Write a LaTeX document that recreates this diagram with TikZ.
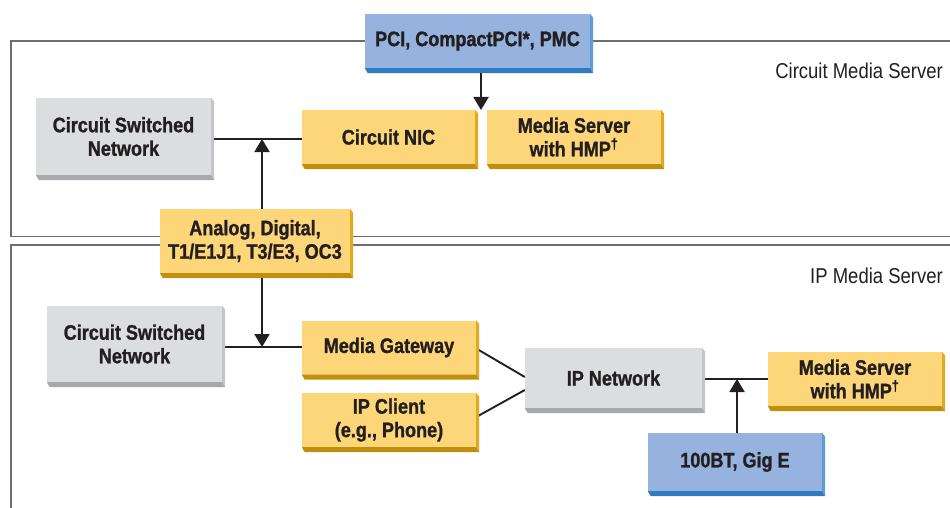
\documentclass[tikz,border=0pt]{standalone}
\usepackage{fontspec}
\setmainfont{Liberation Sans}[FakeStretch=0.86, BoldFeatures={FakeBold=1.2}]
\usetikzlibrary{arrows.meta,calc}
\definecolor{ink}{HTML}{231F20}
\definecolor{frm}{HTML}{6D6E71}
\definecolor{yelF}{HTML}{FED67A}
\definecolor{yelB}{HTML}{C0900C}
\definecolor{yelR}{HTML}{E3A91E}
\definecolor{gryF}{HTML}{DCDDDF}
\definecolor{gryB}{HTML}{A7A9AC}
\definecolor{gryR}{HTML}{C4C5C8}
\definecolor{bluF}{HTML}{95B3DE}
\definecolor{bluB}{HTML}{2E7BC4}
\definecolor{bluR}{HTML}{5F9BD9}
\pgfdeclarelayer{bg}
\pgfsetlayers{bg,main}
\newcommand\extrude[3]{%
  \fill[#3] (#1.north east) -- ++(3,4) -- ($(#1.south east)+(3,5)$) -- (#1.south east) -- cycle;
  \fill[#2] (#1.south west) -- (#1.south east) -- ($(#1.south east)+(3,5)$) -- ($(#1.south west)+(3,5)$) -- cycle;}
\tikzset{
  bx/.style={inner sep=0pt, align=center, text=ink, font=\bfseries\fontsize{21}{23.5}\selectfont},
  ybox/.style={bx, fill=yelF},
  gbox/.style={bx, fill=gryF},
  bbox/.style={bx, fill=bluF},
  conn/.style={draw=ink, line width=1.9pt},
  arr/.style={conn, -{Triangle[width=15pt,length=13pt]}},
  frame/.style={draw=frm, line width=1.4pt},
  lbl/.style={text=ink, font=\fontsize{21.5}{24}\selectfont, anchor=east, inner sep=0pt}
}
\begin{document}
\begin{tikzpicture}[x=1pt,y=-1pt]
\useasboundingbox (0,0) rectangle (950,508);
% boxes
\node[bbox, minimum width=225, minimum height=54] (pci) at (477.5,41) {PCI, CompactPCI*, PMC};
\node[gbox, minimum width=175, minimum height=77] (csn1) at (123.5,136.5) {Circuit Switched\\Network};
\node[ybox, minimum width=173, minimum height=54] (nic) at (388.5,137) {Circuit NIC};
\node[ybox, minimum width=174, minimum height=54] (ms1) at (574,137) {Media Server\\with HMP\textsuperscript{†}};
\node[ybox, minimum width=190, minimum height=64] (ana) at (255,241) {Analog, Digital,\\T1/E1J1, T3/E3, OC3};
\node[gbox, minimum width=175, minimum height=76] (csn2) at (134.5,344) {Circuit Switched\\Network};
\node[ybox, minimum width=174, minimum height=54] (mg) at (389,347.5) {Media Gateway};
\node[ybox, minimum width=174, minimum height=54] (ipc) at (389,420) {IP Client\\(e.g., Phone)};
\node[gbox, minimum width=177, minimum height=60] (ipn) at (613.5,378) {IP Network};
\node[ybox, minimum width=174, minimum height=54] (ms2) at (855,379) {Media Server\\with HMP\textsuperscript{†}};
\node[bbox, minimum width=174, minimum height=58] (bt) at (735,462) {100BT, Gig E};
\extrude{pci}{bluB}{bluR}
\extrude{csn1}{gryB}{gryR}
\extrude{nic}{yelB}{yelR}
\extrude{ms1}{yelB}{yelR}
\extrude{ana}{yelB}{yelR}
\extrude{csn2}{gryB}{gryR}
\extrude{mg}{yelB}{yelR}
\extrude{ipc}{yelB}{yelR}
\extrude{ipn}{gryB}{gryR}
\extrude{ms2}{yelB}{yelR}
\extrude{bt}{bluB}{bluR}
% labels
\node[lbl] (lcms) at (943,71) {Circuit Media Server};
\node[lbl] (lipms) at (943,276) {IP Media Server};
% junctions
\coordinate (j1) at (262,139);
\coordinate (j2) at (481,110);
\coordinate (j3) at (262,347);
\coordinate (j4) at (737,379);
\begin{pgfonlayer}{bg}
  % frames
  \draw[frame] (pci.west) -- (11,41) -- (11,236.5) -- (950,236.5);
  \draw[frame] (pci.east) -- (950,41);
  \draw[frame] (950,245) -- (11,245) -- (11,508);
  % connectors
  \draw[conn] (csn1.east |- j1) -- (nic.west |- j1);
  \draw[arr] (ana.north -| j1) -- (j1);
  \draw[arr] (pci.south -| j2) -- (j2);
  \draw[conn] (csn2.east |- j3) -- (mg.west |- j3);
  \draw[arr] (ana.south -| j3) -- (j3);
  \draw[conn] ($(mg.east)+(0,1)$) -- ($(ipn.west)+(0,-1)$);
  \draw[conn] ($(ipc.east)+(0,-3)$) -- ($(ipn.west)+(0,12)$);
  \draw[conn] (ipn.east |- j4) -- (ms2.west |- j4);
  \draw[arr] (bt.north -| j4) -- (j4);
\end{pgfonlayer}
\end{tikzpicture}
\end{document}
